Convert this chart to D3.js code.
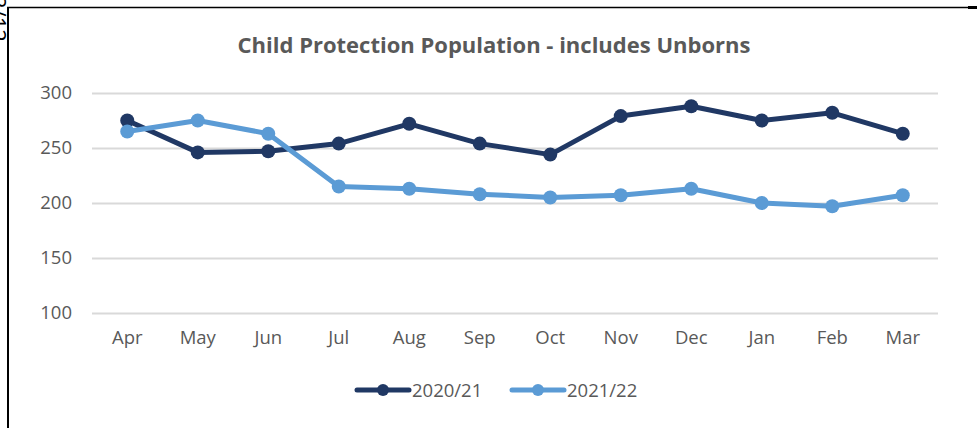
<!DOCTYPE html>
<html>
<head>
<meta charset="utf-8">
<script src="https://cdn.jsdelivr.net/npm/d3@7"></script>
<style>
  html, body { margin: 0; padding: 0; background: #fff; }
  svg { display: block; font-family: "Open Sans", "Noto Sans", sans-serif; }
</style>
</head>
<body>
<svg id="chart"></svg>
<script>
const MONTHS = ['Apr', 'May', 'Jun', 'Jul', 'Aug', 'Sep', 'Oct', 'Nov', 'Dec', 'Jan', 'Feb', 'Mar'];
const SERIES_NAMES = ['2020/21', '2021/22'];
const VALUES_2020 = [275, 246, 247, 254, 272, 254, 244, 279, 288, 275, 282, 263];
const VALUES_2021 = [265, 275, 263, 215, 213, 208, 205, 207, 213, 200, 197, 207];
const Y_TICKS = [100, 150, 200, 250, 300];
const COLORS = ['#203864', '#5b9bd5'];

const W = 977, H = 428;
const PLOT = { left: 92, right: 938, top: 93, bottom: 313 };

const svg = d3.select('#chart').attr('width', W).attr('height', H);

// frame pieces around the captured area
svg.append('line').attr('x1', 8).attr('x2', 8).attr('y1', 7).attr('y2', H)
  .attr('stroke', '#000').attr('stroke-width', 2);
svg.append('line').attr('x1', 7).attr('x2', W).attr('y1', 7.5).attr('y2', 7.5)
  .attr('stroke', '#000').attr('stroke-width', 1.5);
svg.append('line').attr('x1', 968).attr('x2', W).attr('y1', 7.5).attr('y2', 7.5)
  .attr('stroke', '#000').attr('stroke-width', 3);
svg.append('text').attr('transform', 'translate(-10,-4) rotate(90)')
  .attr('font-size', 22).attr('fill', '#000').text('3/12');

const x = d3.scaleBand().domain(MONTHS).range([PLOT.left, PLOT.right]);
const y = d3.scaleLinear().domain([100, 300]).range([PLOT.bottom, PLOT.top]);

svg.append('text')
  .attr('x', 494).attr('y', 53)
  .attr('text-anchor', 'middle')
  .attr('font-size', 22).attr('font-weight', 'bold')
  .attr('fill', '#595959')
  .text('Child Protection Population - includes Unborns');

// gridlines + y labels
const yAxis = svg.append('g')
  .attr('transform', `translate(${PLOT.left},0)`)
  .call(d3.axisLeft(y).tickValues(Y_TICKS).tickSize(-(PLOT.right - PLOT.left)).tickPadding(20));
yAxis.select('.domain').remove();
yAxis.selectAll('.tick line').attr('stroke', '#d9d9d9').attr('stroke-width', 2);
yAxis.selectAll('.tick text').attr('fill', '#595959').attr('font-size', 18.5)
  .style('font-family', '"Open Sans", sans-serif');

const xAxis = svg.append('g')
  .attr('transform', `translate(0,${PLOT.bottom})`)
  .call(d3.axisBottom(x).tickSize(0).tickPadding(18));
xAxis.select('.domain').remove();
xAxis.selectAll('.tick text').attr('fill', '#595959').attr('font-size', 18.5)
  .style('font-family', '"Open Sans", sans-serif');

const series = [VALUES_2020, VALUES_2021];
const line = d3.line()
  .x((d, i) => x(MONTHS[i]) + x.bandwidth() / 2)
  .y(d => y(d));

series.forEach((vals, s) => {
  const g = svg.append('g');
  g.append('path').datum(vals)
    .attr('d', line)
    .attr('fill', 'none')
    .attr('stroke', COLORS[s])
    .attr('stroke-width', 5)
    .attr('stroke-linejoin', 'round');
  g.selectAll('circle').data(vals).enter().append('circle')
    .attr('cx', (d, i) => x(MONTHS[i]) + x.bandwidth() / 2)
    .attr('cy', d => y(d))
    .attr('r', 7)
    .attr('fill', COLORS[s]);
});

// legend
const legendX = [355, 510];
SERIES_NAMES.forEach((name, s) => {
  const g = svg.append('g').attr('transform', `translate(${legendX[s]},390)`);
  g.append('line').attr('x1', 2).attr('x2', 54).attr('y1', 0).attr('y2', 0)
    .attr('stroke', COLORS[s]).attr('stroke-width', 5).attr('stroke-linecap', 'round');
  g.append('circle').attr('cx', 28).attr('cy', 0).attr('r', 6).attr('fill', COLORS[s]);
  g.append('text').attr('x', 57).attr('y', 7)
    .attr('font-size', 18.5).attr('fill', '#595959').text(name);
});
</script>
</body>
</html>
